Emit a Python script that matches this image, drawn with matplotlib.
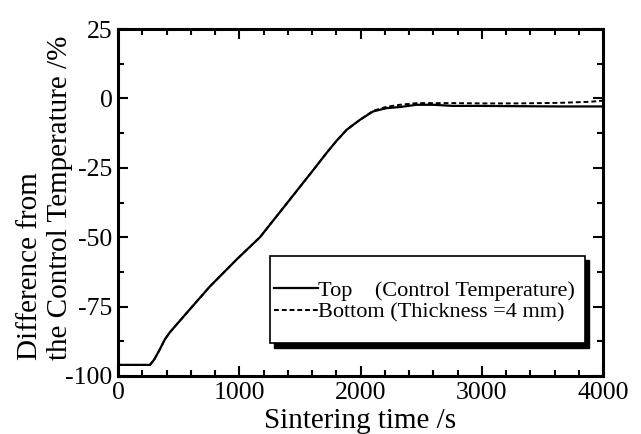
import matplotlib
matplotlib.use("Agg")
import matplotlib.pyplot as plt
from matplotlib.patches import Rectangle
from matplotlib.ticker import MultipleLocator

plt.rcParams["font.family"] = ["Liberation Serif", "DejaVu Serif"]
plt.rcParams["font.size"] = 16
plt.rcParams["axes.unicode_minus"] = False

# Data
time_top = [0, 264, 300, 346, 388, 429, 594, 759, 979, 1171, 1418, 1625,
            1721, 1800, 1886, 1950, 1996, 2103, 2216, 2326, 2463, 2600,
            2763, 3000, 3300, 3645, 4000]
diff_top = [-96.0, -96.0, -94.0, -90.3, -86.7, -84.2, -75.9, -67.7, -58.0,
            -50.0, -36.4, -25.0, -19.6, -15.4, -11.3, -9.2, -7.7, -4.7,
            -3.5, -3.1, -2.3, -2.3, -2.7, -2.7, -2.8, -2.9, -2.9]

time_bottom = [0, 264, 300, 346, 388, 429, 594, 759, 979, 1171, 1418, 1625,
               1721, 1800, 1886, 1950, 1996, 2103, 2216, 2326, 2463, 2763,
               3000, 3300, 3645, 3900, 4000]
diff_bottom = [-96.0, -96.0, -94.0, -90.3, -86.7, -84.2, -75.9, -67.7,
               -58.0, -50.0, -36.4, -25.0, -19.6, -15.4, -11.3, -9.2, -7.7,
               -4.5, -3.0, -2.3, -1.7, -1.7, -1.8, -1.8, -1.6, -1.2, -0.8]

label_top = "Top    (Control Temperature)"
label_bottom = "Bottom (Thickness =4 mm)"

fig = plt.figure(figsize=(6.41, 4.34), dpi=100)
ax = fig.add_axes([118 / 641, 1 - 376 / 434, 485 / 641, 347 / 434])

ax.plot(time_top, diff_top, color="black", lw=1.6, label=label_top)
ax.plot(time_bottom, diff_bottom, color="black", lw=1.4,
        linestyle=(0, (2.5, 1.5)), label=label_bottom)

ax.set_xlim(0, 4000)
ax.set_ylim(-100, 25)
ax.xaxis.set_major_locator(MultipleLocator(1000))
ax.xaxis.set_minor_locator(MultipleLocator(200))
ax.yaxis.set_major_locator(MultipleLocator(25))
ax.yaxis.set_minor_locator(MultipleLocator(12.5))
ax.tick_params(which="both", direction="in", top=True, right=True, width=1.5,
               labelsize=18.5)
ax.tick_params(which="major", length=7, pad=4)
ax.tick_params(which="minor", length=4.5)
for sp in ax.spines.values():
    sp.set_linewidth(2.2)

ax.set_xlabel("Sintering time /s", fontsize=21, labelpad=3)
ax.set_ylabel("Difference from\nthe Control Temperature /%", fontsize=21,
              multialignment="left")
ax.yaxis.set_label_coords(-0.093, 0.514)

# Legend box with solid black shadow
bx0, by0, bw, bh = 0.313, 0.095, 0.65, 0.251
ax.add_patch(Rectangle((bx0 + 0.009, by0 - 0.013), bw, bh, transform=ax.transAxes,
                       facecolor="black", edgecolor="black", zorder=4))
ax.add_patch(Rectangle((bx0, by0), bw, bh, transform=ax.transAxes,
                       facecolor="white", edgecolor="black", lw=1.2, zorder=5))
leg = ax.legend(loc="upper left", bbox_to_anchor=(0.298, 0.307), frameon=False,
                borderpad=0, handlelength=2.0, handletextpad=0.0,
                labelspacing=0.05, fontsize=16)
leg.set_zorder(6)

fig.savefig("out.png", dpi=100)
